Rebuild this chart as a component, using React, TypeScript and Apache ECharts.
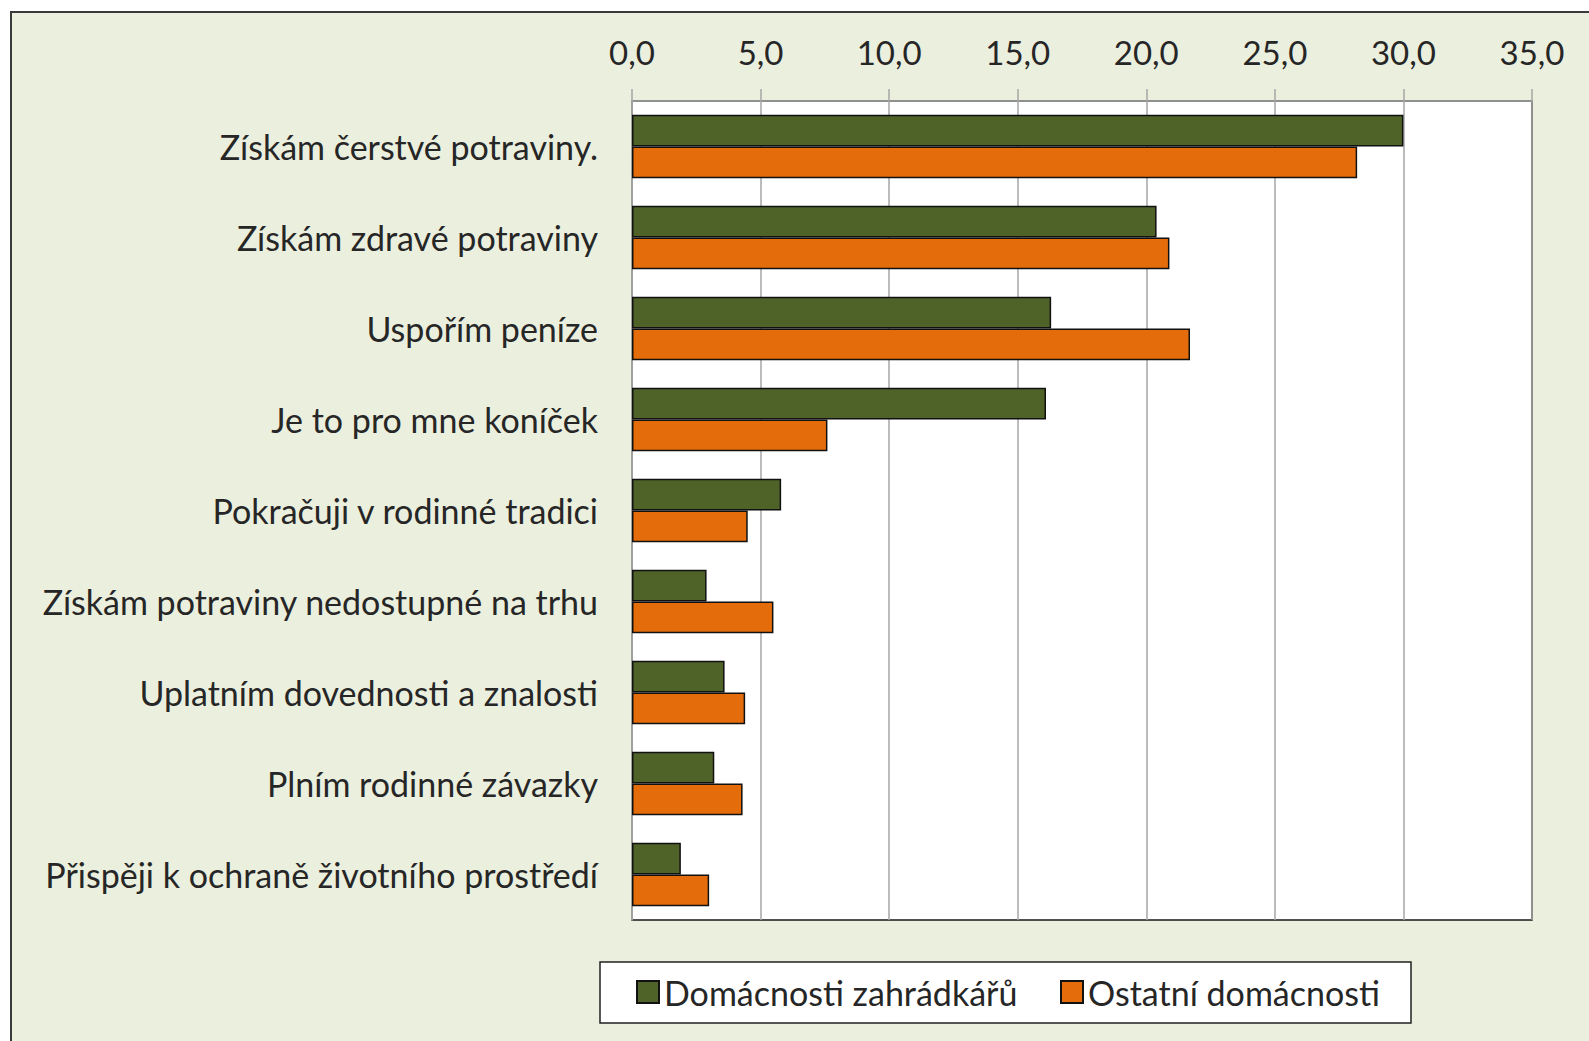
import React, { useEffect, useRef } from "react";
import * as echarts from "echarts";

const categories = [
  "Získám čerstvé potraviny.",
  "Získám zdravé potraviny",
  "Uspořím peníze",
  "Je to pro mne koníček",
  "Pokračuji v rodinné tradici",
  "Získám potraviny nedostupné na trhu",
  "Uplatním dovednosti a znalosti",
  "Plním rodinné závazky",
  "Přispěji k ochraně životního prostředí",
];
const seriesNames = ["Domácnosti zahrádkářů", "Ostatní domácnosti"];
const gardeners = [30.0, 20.4, 16.3, 16.1, 5.8, 2.9, 3.6, 3.2, 1.9];
const others = [28.2, 20.9, 21.7, 7.6, 4.5, 5.5, 4.4, 4.3, 3.0];

const FONT = "Lato";
const FS = 34;
const FS_TICK = 33;

export default function App() {
  const ref = useRef<HTMLDivElement>(null);
  useEffect(() => {
    if (!ref.current) return;
    const chart = echarts.init(ref.current, undefined, { renderer: "svg" });
    chart.setOption({
      animation: false,
      textStyle: { fontFamily: FONT },
      grid: {
        left: 632,
        top: 101,
        right: 57,
        bottom: 121,
        show: true,
        backgroundColor: "#ffffff",
        borderColor: "#1a1a1a",
        borderWidth: 1.5,
      },
      graphic: [
        {
          type: "rect",
          z: 0,
          shape: { x: 600, y: 962, width: 811, height: 61 },
          style: { fill: "#ffffff", stroke: "#222222", lineWidth: 1.5 },
        },
      ],
      xAxis: {
        type: "value",
        position: "top",
        min: 0,
        max: 35,
        interval: 5,
        axisLine: { show: true, lineStyle: { color: "#a6a6a6", width: 1.5 } },
        axisTick: { show: true, length: 12, lineStyle: { color: "#a6a6a6", width: 1.5 } },
        splitLine: { show: true, lineStyle: { color: "#a6a6a6", width: 1.5 } },
        axisLabel: {
          fontFamily: FONT,
          fontSize: FS_TICK,
          color: "#262626",
          margin: 33,
          formatter: (v: number) => v.toFixed(1).replace(".", ","),
        },
      },
      yAxis: {
        type: "category",
        inverse: true,
        data: categories,
        axisLine: { show: true, lineStyle: { color: "#a6a6a6", width: 1.5 } },
        axisTick: { show: false },
        splitLine: { show: false },
        axisLabel: {
          fontFamily: FONT,
          fontSize: FS,
          color: "#262626",
          margin: 34,
        },
      },
      legend: [
        {
          data: [seriesNames[0]],
          left: 636,
          top: 975,
          itemWidth: 22,
          itemHeight: 22,
          itemGap: 8,
          icon: "rect",
          padding: 0,
          textStyle: { fontFamily: FONT, fontSize: FS, color: "#262626" },
        },
        {
          data: [seriesNames[1]],
          left: 1060,
          top: 975,
          itemWidth: 22,
          itemHeight: 22,
          itemGap: 8,
          icon: "rect",
          padding: 0,
          textStyle: { fontFamily: FONT, fontSize: FS, color: "#262626" },
        },
      ],
      series: [
        {
          name: seriesNames[0],
          type: "bar",
          data: gardeners,
          barGap: "0%",
          barCategoryGap: "30%",
          itemStyle: { color: "#4f6228", borderColor: "#111111", borderWidth: 1.5 },
        },
        {
          name: seriesNames[1],
          type: "bar",
          data: others,
          barGap: "0%",
          barCategoryGap: "30%",
          itemStyle: { color: "#e46c0a", borderColor: "#111111", borderWidth: 1.5 },
        },
      ],
    });
    return () => chart.dispose();
  }, []);
  return (
    <div style={{ position: "fixed", left: 0, top: 0, width: 1589, height: 1041, background: "#ffffff", overflow: "hidden" }}>
      <div
        style={{
          position: "absolute",
          left: 10,
          top: 11,
          width: 1600,
          height: 1100,
          background: "#ebefde",
          border: "2px solid #3a3a3a",
          boxSizing: "border-box",
        }}
      />
      <div ref={ref} style={{ position: "absolute", left: 0, top: 0, width: 1589, height: 1041 }} />
    </div>
  );
}
